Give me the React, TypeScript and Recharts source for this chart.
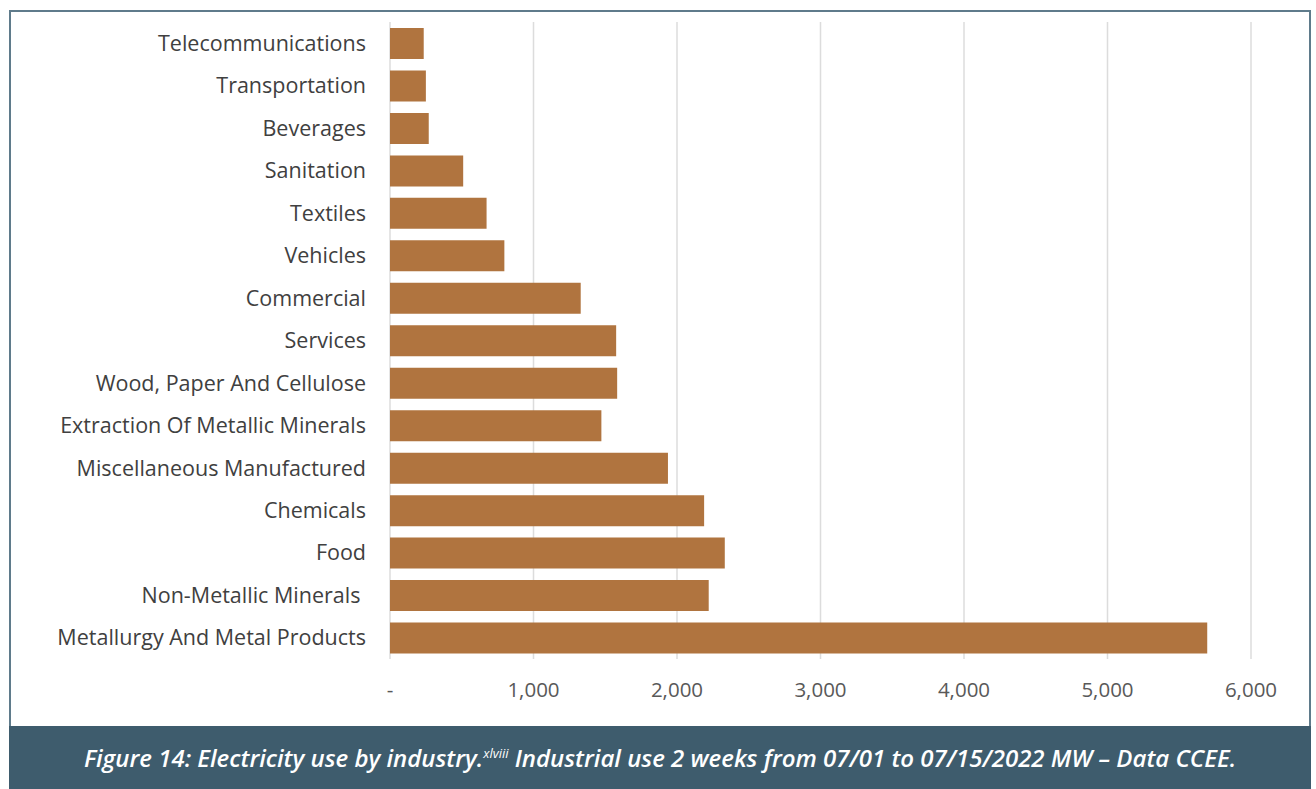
import React from 'react';
import { BarChart, Bar, XAxis, YAxis, CartesianGrid } from 'recharts';

const industries = [
  'Telecommunications',
  'Transportation',
  'Beverages',
  'Sanitation',
  'Textiles',
  'Vehicles',
  'Commercial',
  'Services',
  'Wood, Paper And Cellulose',
  'Extraction Of Metallic Minerals',
  'Miscellaneous Manufactured',
  'Chemicals',
  'Food',
  'Non-Metallic Minerals\u00a0',
  'Metallurgy And Metal Products',
];

const usageMW = [235, 250, 270, 510, 673, 797, 1329, 1576, 1583, 1473, 1937, 2189, 2333, 2221, 5695];

const xTicks = [0, 1000, 2000, 3000, 4000, 5000, 6000];

const FONT = '"Open Sans", "Noto Sans", sans-serif';

export default function App() {
  const chartData = industries.map((name, i) => ({ name, value: usageMW[i] }));

  return (
    <div style={{ position: 'absolute', left: 0, top: 0, width: 1316, height: 789, background: '#fff', fontFamily: FONT }}>
      <div
        style={{
          position: 'absolute',
          left: 9,
          top: 10,
          width: 1298,
          height: 715,
          border: '2px solid #5f7b8b',
          borderBottom: 'none',
        }}
      />
      <div style={{ position: 'absolute', left: 0, top: 0 }}>
        <BarChart
          layout="vertical"
          width={1316}
          height={726}
          data={chartData}
          margin={{ top: 22, right: 65, bottom: 27, left: 0 }}
          barSize={31}
        >
          <CartesianGrid horizontal={false} stroke="#dcdcdc" strokeWidth={1.5} />
          <XAxis
            type="number"
            domain={[0, 6000]}
            ticks={xTicks}
            height={40}
            axisLine={false}
            tickLine={false}
            tickMargin={17}
            tick={{ fill: '#595959', fontSize: 20.5, fontFamily: FONT }}
            tickFormatter={(v: number) => (v === 0 ? '-' : v.toLocaleString('en-US'))}
          />
          <YAxis
            type="category"
            dataKey="name"
            width={390}
            axisLine={false}
            tickLine={false}
            tickMargin={18}
            interval={0}
            tick={{ fill: '#404040', fontSize: 21.5, fontFamily: FONT }}
          />
          <Bar dataKey="value" fill="#b0743f" isAnimationActive={false} />
        </BarChart>
      </div>
      <div
        style={{
          position: 'absolute',
          left: 9,
          top: 726,
          width: 1302,
          height: 63,
          background: '#3e5c6d',
          color: '#fff',
          fontStyle: 'italic',
          fontWeight: 600,
          fontSize: 24,
          display: 'flex',
          alignItems: 'center',
          justifyContent: 'center',
          whiteSpace: 'nowrap',
        }}
      >
        <span>
          Figure 14: Electricity use by industry.
          <sup style={{ fontSize: 13, fontWeight: 400 }}>xlviii</sup> Industrial use 2 weeks from 07/01 to 07/15/2022 MW – Data CCEE.
        </span>
      </div>
    </div>
  );
}
